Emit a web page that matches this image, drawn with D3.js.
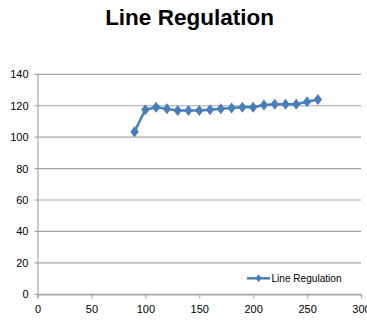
<!DOCTYPE html>
<html><head><meta charset="utf-8">
<script src="https://cdn.jsdelivr.net/npm/d3@7"></script>
<style>body{margin:0;background:#fff;}svg{display:block;}</style>
</head><body>
<svg id="c" width="367" height="326"></svg>
<script>
const title = "Line Regulation";
const seriesName = "Line Regulation";
const xValues = [90,100,110,120,130,140,150,160,170,180,190,200,210,220,230,240,250,260];
const yValues = [103.5,117.5,119,118,117,117,117,117.5,118,118.5,119,119,120.5,121,121,121,122.5,124];
const xTicks = [0,50,100,150,200,250,300];
const yTicks = [0,20,40,60,80,100,120,140];

const svg = d3.select("#c");
const x = d3.scaleLinear().domain([0,300]).range([37.5,361]);
const y = d3.scaleLinear().domain([0,140]).range([294.3,74.3]);
const font = "'Liberation Sans', Arial, sans-serif";
const grid = "#a6a6a6";

svg.append("text").attr("x",189.5).attr("y",25).attr("text-anchor","middle")
  .attr("font-family",font).attr("font-weight","bold").attr("font-size",22.5)
  .attr("fill","#000").text(title);

// gridlines
svg.append("g").selectAll("line").data(yTicks).join("line")
  .attr("x1",34.5).attr("x2",361).attr("y1",d=>y(d)).attr("y2",d=>y(d))
  .attr("stroke",grid).attr("stroke-width",1.2);

// y axis
const ya = svg.append("g").attr("transform","translate(37.5,0)")
  .call(d3.axisLeft(y).tickValues(yTicks).tickSize(0).tickPadding(9));
ya.select(".domain").attr("stroke",grid).attr("stroke-width",1.2);
ya.selectAll("text").attr("font-family",font).attr("font-size",11).attr("fill","#000");

// x axis
const xa = svg.append("g").attr("transform","translate(0,294.3)")
  .call(d3.axisBottom(x).tickValues(xTicks).tickSize(4).tickPadding(7));
xa.select(".domain").attr("stroke",grid).attr("stroke-width",1.2);
xa.selectAll("line").attr("stroke",grid).attr("stroke-width",1.2);
xa.selectAll("text").attr("font-family",font).attr("font-size",11).attr("fill","#000");

const col = "#4a7ebb";
const pts = xValues.map((v,i)=>[v,yValues[i]]);
svg.append("path").datum(pts)
  .attr("d", d3.line().x(d=>x(d[0])).y(d=>y(d[1])))
  .attr("fill","none").attr("stroke",col).attr("stroke-width",2.5);

const diamond = "M0,-5.5L4.2,0L0,5.5L-4.2,0Z";
svg.append("g").selectAll("path").data(pts).join("path")
  .attr("transform",d=>`translate(${x(d[0])},${y(d[1])})`)
  .attr("d",diamond).attr("fill",col);

// legend
const lg = svg.append("g");
lg.append("line").attr("x1",247).attr("x2",270).attr("y1",278.3).attr("y2",278.3)
  .attr("stroke",col).attr("stroke-width",2.5);
lg.append("path").attr("transform","translate(258.5,278.3)").attr("d","M0,-4L3,0L0,4L-3,0Z").attr("fill",col);
lg.append("text").attr("x",271.5).attr("y",282.3).attr("font-family",font).attr("font-size",10.5)
  .attr("textLength",70).attr("lengthAdjust","spacingAndGlyphs").attr("fill","#000").text(seriesName);
</script>
</body></html>
